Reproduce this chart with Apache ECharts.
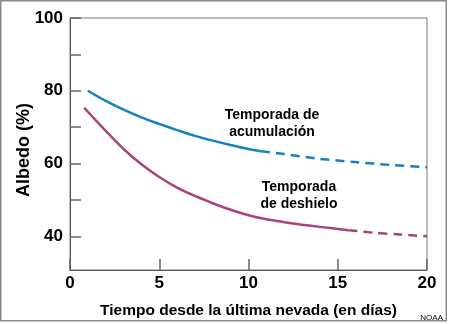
<!DOCTYPE html>
<html>
<head>
<meta charset="utf-8">
<script src="https://cdn.jsdelivr.net/npm/echarts@6/dist/echarts.min.js"></script>
<style>
  html, body { margin: 0; padding: 0; background: #ffffff; }
  #chart { width: 450px; height: 324px; }
</style>
</head>
<body>
<div id="chart"></div>
<script>
// Albedo of snow versus days since last snowfall
const accumDays = [1, 2, 3, 4, 5, 6, 7, 8, 9, 10, 10.7];
const accumAlbedo = [80, 77.2, 74.8, 72.7, 70.9, 69.2, 67.6, 66.3, 65.1, 64.0, 63.4];
const accumDashDays = [10.7, 12, 14, 16, 18, 20];
const accumDashAlbedo = [63.4, 62.6, 61.3, 60.4, 59.6, 59.0];

const meltDays = [0.8, 1.5, 2, 3, 4, 5, 6, 7, 8, 9, 10, 11, 12, 13, 14, 15.6];
const meltAlbedo = [75.3, 71.6, 69.0, 64.0, 59.8, 56.3, 53.4, 51.1, 49.1, 47.3, 45.8, 44.7, 43.9, 43.2, 42.6, 41.7];
const meltDashDays = [15.6, 17, 18.5, 20];
const meltDashAlbedo = [41.7, 41.0, 40.5, 40.0];

const xTicks = [0, 5, 10, 15, 20];
const yTicks = [40, 50, 60, 70, 80, 90, 100];
const yLabels = [40, 60, 80, 100];

const xTitle = 'Tiempo desde la última nevada (en días)';
const yTitle = 'Albedo (%)';
const accumName = 'Temporada de\nacumulación';
const meltName = 'Temporada\nde deshielo';

const pairs = (xs, ys) => xs.map((x, i) => [x, ys[i]]);

const BLUE = '#1582bf';
const PURPLE = '#a8447a';
const FONT = '"Liberation Sans", Arial, sans-serif';

const chart = echarts.init(document.getElementById('chart'), null, { renderer: 'canvas' });

chart.setOption({
  animation: false,
  backgroundColor: '#ffffff',
  grid: {
    left: 70, right: 23, top: 18, bottom: 51,
    show: true, borderColor: '#7a7a7a', borderWidth: 1, backgroundColor: 'transparent'
  },
  xAxis: {
    type: 'value',
    min: xTicks[0], max: xTicks[xTicks.length - 1], interval: 5,
    name: xTitle,
    nameLocation: 'middle', nameGap: 33,
    nameTextStyle: { fontFamily: FONT, fontWeight: 'bold', fontSize: 15.5, color: '#000' },
    axisLine: { lineStyle: { color: '#555', width: 1 } },
    axisTick: { inside: true, length: 11, lineStyle: { color: '#666', width: 1.5 } },
    axisLabel: { fontFamily: FONT, fontWeight: 'bold', fontSize: 17, color: '#000', margin: 5 },
    splitLine: { show: false }
  },
  yAxis: {
    type: 'value',
    min: 30.75, max: 100,
    axisLine: { show: true, lineStyle: { color: '#555', width: 1 } },
    axisTick: { show: true, inside: true, length: 11, customValues: yTicks, lineStyle: { color: '#666', width: 1.5 } },
    axisLabel: { fontFamily: FONT, fontWeight: 'bold', fontSize: 17, color: '#000', margin: 7, customValues: yLabels },
    splitLine: { show: false }
  },
  series: [
    {
      type: 'line', name: accumName, data: pairs(accumDays, accumAlbedo),
      smooth: 0.3, showSymbol: false,
      lineStyle: { color: BLUE, width: 2.5 }
    },
    {
      type: 'line', name: accumName, data: pairs(accumDashDays, accumDashAlbedo),
      smooth: 0.3, showSymbol: false,
      lineStyle: { color: BLUE, width: 2.5, type: [9, 6] }
    },
    {
      type: 'line', name: meltName, data: pairs(meltDays, meltAlbedo),
      smooth: 0.3, showSymbol: false,
      lineStyle: { color: PURPLE, width: 2.5 }
    },
    {
      type: 'line', name: meltName, data: pairs(meltDashDays, meltDashAlbedo),
      smooth: 0.3, showSymbol: false,
      lineStyle: { color: PURPLE, width: 2.5, type: [9, 6] }
    }
  ],
  graphic: [
    {
      type: 'rect', silent: true,
      shape: { x: 0.75, y: 0.75, width: 445.5, height: 320 },
      style: { fill: 'none', stroke: '#888', lineWidth: 1.5 }
    },
    {
      type: 'text', x: 24, y: 150, rotation: Math.PI / 2,
      style: { text: yTitle, font: 'bold 18px ' + FONT, fill: '#000', align: 'center', verticalAlign: 'middle' }
    },
    {
      type: 'text', x: 272, y: 123.5,
      style: { text: accumName, font: 'bold 14px ' + FONT, fill: '#000', align: 'center', verticalAlign: 'middle', lineHeight: 17 }
    },
    {
      type: 'text', x: 299, y: 196,
      style: { text: meltName, font: 'bold 14px ' + FONT, fill: '#000', align: 'center', verticalAlign: 'middle', lineHeight: 17 }
    },
    {
      type: 'text', x: 443, y: 318,
      style: { text: 'NOAA', font: '8px ' + FONT, fill: '#000', align: 'right', verticalAlign: 'middle' }
    }
  ]
});
</script>
</body>
</html>
